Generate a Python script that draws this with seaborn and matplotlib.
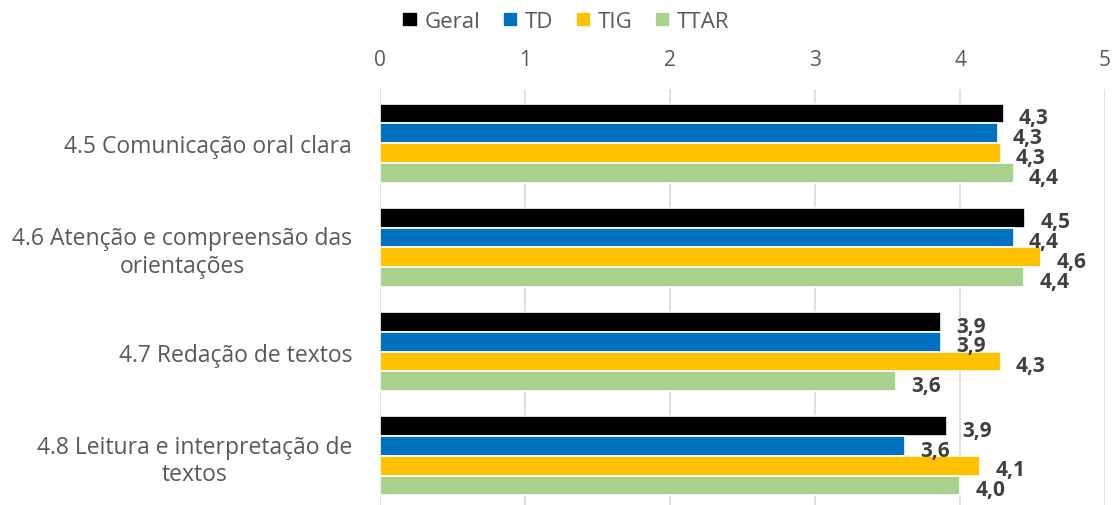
import pandas as pd
import seaborn as sns
import matplotlib.pyplot as plt

# dados do gráfico
categorias = [
    "4.5 Comunicação oral clara",
    "4.6 Atenção e compreensão das\norientações",
    "4.7 Redação de textos",
    "4.8 Leitura e interpretação de\ntextos",
]
series = ["Geral", "TD", "TIG", "TTAR"]
geral = [4.30, 4.45, 3.87, 3.91]
td = [4.26, 4.37, 3.87, 3.62]
tig = [4.28, 4.56, 4.28, 4.14]
ttar = [4.37, 4.44, 3.56, 4.00]
cores = ["#000000", "#0070C0", "#FFC000", "#A9D18E"]

df = pd.DataFrame({"Geral": geral, "TD": td, "TIG": tig, "TTAR": ttar}, index=categorias)
df = df.reset_index(names="categoria").melt(id_vars="categoria", var_name="serie", value_name="valor")

sns.set_style("white")
plt.rcParams["font.family"] = ["Open Sans", "DejaVu Sans"]

fig = plt.figure(figsize=(11.14, 5.06), dpi=100)
ax = fig.add_axes([0.341, -0.01, 0.651, 0.832])

sns.barplot(data=df, y="categoria", x="valor", hue="serie", hue_order=series,
            palette=cores, orient="h", width=0.76, edgecolor="white", linewidth=1.2,
            saturation=1, ax=ax, legend=True)

# rótulos de dados
for cont in ax.containers:
    for bar in cont:
        w = bar.get_width()
        y = bar.get_y() + bar.get_height() / 2
        ax.annotate(f"{w:.1f}".replace(".", ","), (w, y), xytext=(11, -3),
                    textcoords="offset points", ha="left", va="center",
                    fontsize=15, fontweight="bold", color="#404040")

ax.set_xlim(0, 5)
ax.set_ylim(3.52, -0.52)
ax.xaxis.tick_top()
ax.set_xticks([0, 1, 2, 3, 4, 5])
ax.tick_params(axis="x", length=0, labelsize=15, labelcolor="#595959", pad=14)
ax.tick_params(axis="y", length=0, labelsize=16.5, labelcolor="#595959", pad=20)
for t in ax.get_yticklabels():
    t.set_multialignment("center")
ax.set_xlabel("")
ax.set_ylabel("")
ax.grid(axis="x", color="#D9D9D9", linewidth=1.2)
ax.set_axisbelow(True)
sns.despine(ax=ax, left=True, bottom=True, top=True, right=True)

ax.legend(loc="upper center", ncol=4, frameon=False, fontsize=16, handlelength=0.7,
          handleheight=0.7, handletextpad=0.3, columnspacing=1.0, labelcolor="#595959")
leg = ax.get_legend()
leg.set_bbox_to_anchor((0.508, 1.015), transform=fig.transFigure)

fig.savefig("out.png", dpi=100)
